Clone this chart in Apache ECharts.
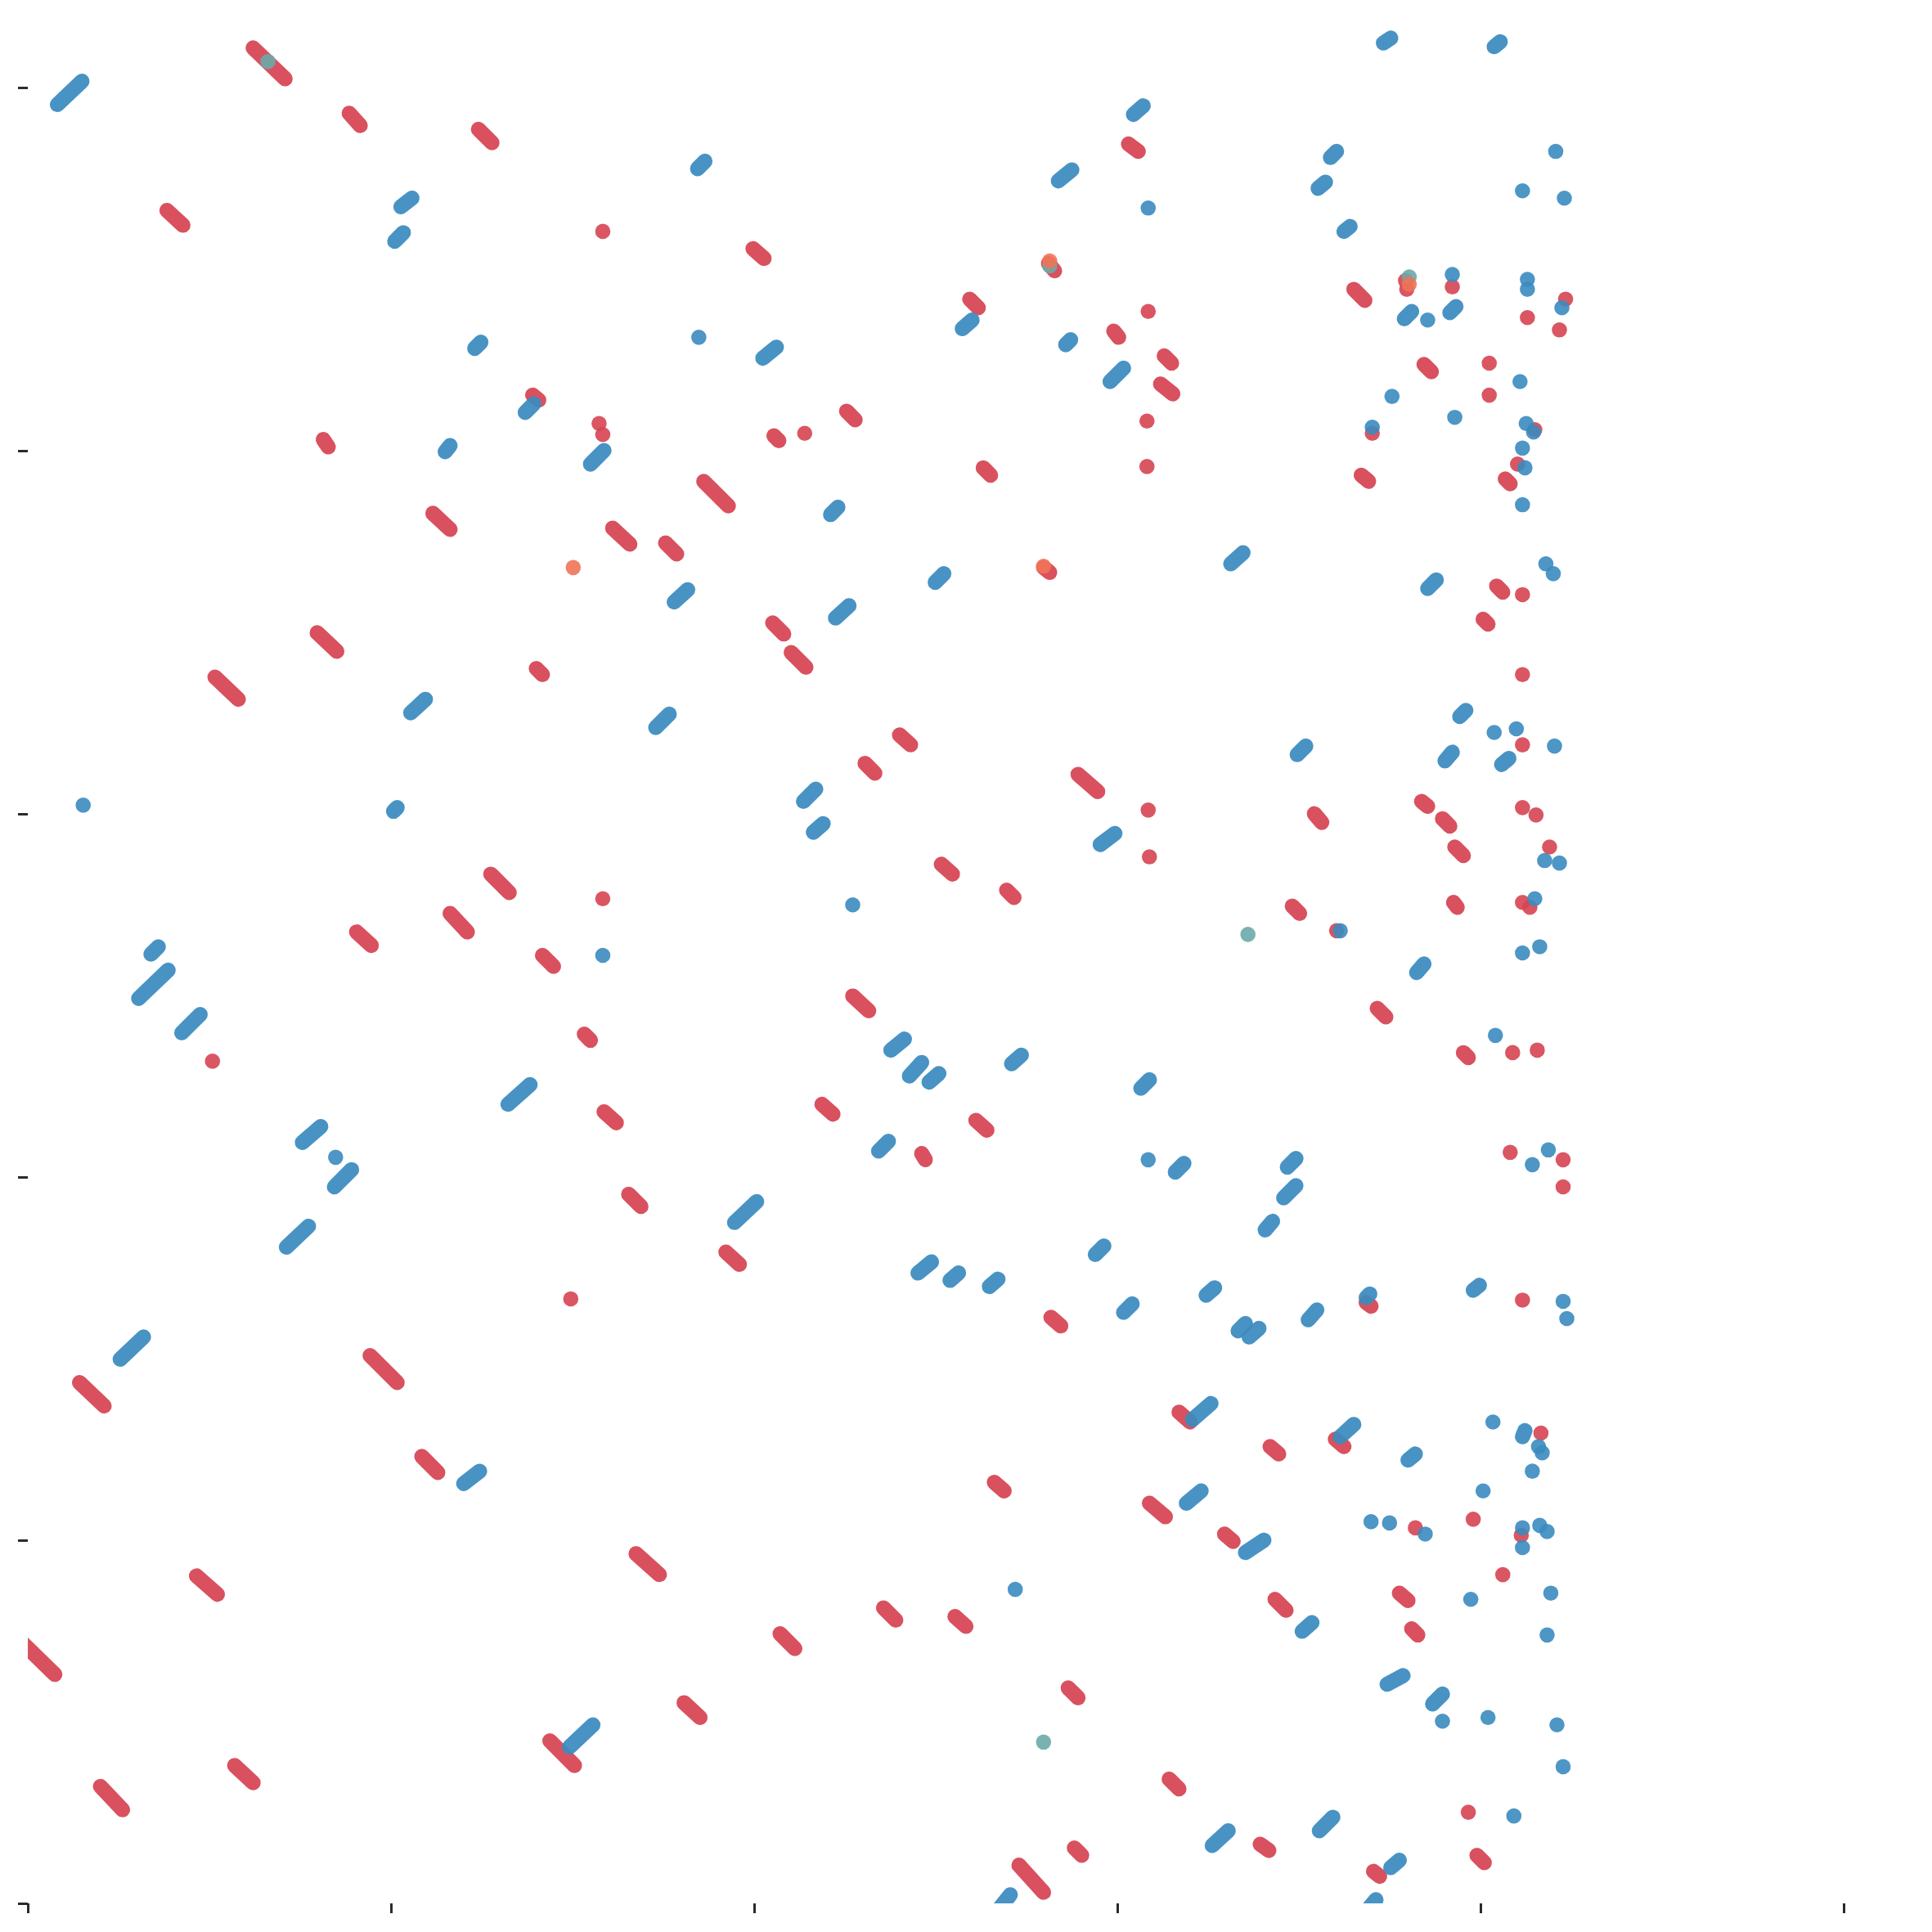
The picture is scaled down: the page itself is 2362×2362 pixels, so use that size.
<!DOCTYPE html>
<html>
<head>
<meta charset="utf-8">
<script src="https://cdn.jsdelivr.net/npm/echarts@6/dist/echarts.min.js"></script>
<style>
  html, body { margin: 0; padding: 0; background: #ffffff; }
  #chart { width: 2362px; height: 2362px; }
</style>
</head>
<body>
<div id="chart"></div>
<script>
//////////DATA - each mark is [x1, y1, x2, y2] (start, end of the trail), dots are [x, y]
var tickValues = [0, 295, 590, 885, 1180, 1475];

var blueSegs = [
    [24,1461,44,1480], [544,1409,550,1415], [303,1378,312,1385], [298,1350,305,1357],
    [1101,1511,1107,1515], [1191,1508,1196,1512], [898,1453,906,1460], [837,1399,848,1408],
    [1048,1393,1054,1398], [1058,1418,1063,1423], [1069,1358,1074,1362], [1118,1287,1124,1293],
    [1155,1292,1160,1297], [759,1279,767,1286], [597,1255,608,1264], [363,1263,368,1268],
    [843,1266,847,1270], [879,1236,890,1247], [339,1179,343,1184], [404,1211,411,1218],
    [457,1169,468,1180], [652,1128,658,1134], [977,1088,987,1097], [737,1073,744,1080],
    [525,1057,536,1067], [656,1044,667,1054], [1137,1068,1144,1075], [311,967,323,978],
    [510,955,521,966], [1163,964,1168,969], [1031,933,1038,940], [1151,928,1157,935],
    [1197,925,1203,930], [630,895,640,905], [638,870,646,877], [297,887,300,890],
    [871,860,883,869], [1128,756,1134,763], [100,771,106,777], [90,735,114,758],
    [125,707,140,722], [701,693,712,702], [716,672,726,683], [732,667,740,674],
    [799,682,807,689], [390,649,408,665], [223,618,238,631], [249,582,263,596],
    [691,611,699,619], [904,662,911,669], [932,594,939,601], [1023,598,1030,605],
    [1020,573,1030,583], [1005,547,1011,554], [210,533,228,550], [574,553,592,570],
    [723,512,734,521], [749,506,756,512], [781,501,788,507], [867,527,874,534],
    [890,480,897,487], [957,494,964,500], [75,442,94,460], [983,465,989,471],
    [992,460,1000,467], [1040,474,1047,482], [1087,492,1090,495], [1174,498,1179,502],
    [354,341,367,351], [946,393,961,406], [1066,379,1077,389], [1121,360,1127,365],
    [1214,379,1216,384], [941,325,953,335], [989,285,1004,295], [1035,221,1043,228],
    [1104,178,1117,185], [1141,162,1149,170], [440,127,459,145], [962,47,975,59],
    [1049,59,1060,70], [790,-3,798,7], [1107,29,1114,35], [1090,-3,1095,3]
];
var blueDots = [
    [910,1377], [1241,1423], [1214,1391], [1248,1385], [1157,1323], [1218,1319], [1218,1311],
    [1246,1296], [1137,1286], [1212,1236], [1108,1224], [545,1272], [1092,1199], [1159,1207],
    [1217,1202], [1223,1195], [1214,1182], [1216,1166], [1214,1136], [1233,1088], [1239,1080],
    [1191,951], [1209,954], [1240,940], [45,892], [1232,847], [1244,845], [1224,816],
    [1214,772], [1228,777], [1066,790], [670,811], [467,770], [1192,705], [250,606],
    [910,604], [1222,600], [1235,612], [1247,489], [1250,475], [1190,391], [1227,371],
    [1230,366], [1222,351], [1182,335], [1091,310], [1106,309], [1135,300], [1214,305],
    [1214,289], [1228,307], [1234,302], [802,255], [1172,247], [1237,252], [1234,218],
    [1149,148], [1186,151], [1242,145], [1247,111], [1207,71]
];

var redSegs = [
    [183,1507,209,1482], [261,1454,270,1444], [366,1441,377,1430], [113,1375,126,1363],
    [589,1344,598,1336], [894,1429,902,1423], [829,1332,834,1326], [1077,1311,1086,1302],
    [1134,1250,1140,1244], [765,1303,772,1296], [882,1277,886,1272], [923,1257,929,1251],
    [920,1234,930,1226], [240,1189,244,1183], [410,1225,415,1221], [606,1192,610,1188],
    [665,1212,672,1205], [776,1166,782,1160], [1200,1157,1204,1153], [1083,1160,1089,1155],
    [329,1129,343,1116], [549,1155,569,1135], [475,1117,489,1104], [518,1105,527,1096],
    [825,1085,830,1081], [1193,1070,1198,1065], [1182,1043,1186,1039], [235,1032,251,1017],
    [152,996,171,978], [413,1003,418,998], [605,1040,614,1031], [620,1016,632,1004],
    [708,949,717,941], [680,926,688,918], [853,917,869,903], [1045,885,1051,878],
    [1132,895,1137,891], [1149,881,1155,875], [1159,858,1166,851], [742,844,751,836],
    [795,823,801,817], [267,789,279,778], [343,804,357,789], [376,836,391,821],
    [418,770,427,761], [1027,810,1033,804], [1158,813,1161,809], [452,706,457,701],
    [670,737,683,725], [1096,727,1103,720], [1166,691,1170,687], [468,643,478,634],
    [645,649,654,641], [770,636,779,628], [726,609,729,604], [488,576,498,566],
    [567,529,578,519], [831,476,839,469], [1087,488,1091,485], [42,423,62,404],
    [278,445,300,423], [320,363,333,350], [935,399,944,391], [1009,371,1016,365],
    [1062,377,1069,371], [785,342,793,335], [911,325,924,314], [972,300,979,294],
    [137,266,154,251], [494,284,513,267], [-10,217,22,186], [611,219,623,207],
    [695,240,705,230], [753,233,762,225], [1013,247,1022,238], [1114,252,1121,246],
    [1124,223,1129,218], [845,175,853,167], [424,132,444,112], [533,163,546,151],
    [59,95,77,76], [168,112,183,98], [927,101,935,93], [1001,48,1008,43],
    [805,31,825,9], [850,45,856,39], [1177,39,1183,33], [1093,26,1098,22]
];
var redDots = [
    [467,1358], [1119,1318], [1120,1311], [1157,1313], [1249,1303], [1218,1288], [1244,1278],
    [1187,1251], [1187,1225], [910,1293], [909,1204], [909,1167], [464,1202], [467,1193],
    [631,1194], [1092,1194], [1224,1197], [1210,1169], [1214,1063], [1214,998], [1214,941],
    [910,888], [1214,890], [1225,884], [1236,858], [911,850], [467,816], [1063,790],
    [1214,813], [1220,809], [150,684], [1206,691], [1226,693], [1204,610], [1247,604],
    [1247,582], [441,491], [1214,490], [1229,382], [1127,305], [1174,312], [1213,299],
    [1198,267], [1170,74]
];

var tealDots = [[195,1496], [1122,1321], [830,1330], [991,787], [825,131]];
var orangeDots = [[830,1334], [1122,1315], [443,1085], [825,1086]];

//////////Colores
var colors = {
    blue: '#3a8bbf',
    red: '#d64452',
    teal: '#6aaaa8',
    orange: '#ef7356'
};

//////////Helpers
function toMarks(segs, dots) {
    var out = segs.slice();
    dots.forEach(function (d) {
        out.push([d[0], d[1], d[0], d[1]]);
    });
    return out;
}

//Trail = round capped line between both points, single point = circle
function renderTrail(params, api) {
    var p1 = api.coord([api.value(0), api.value(1)]);
    var p2 = api.coord([api.value(2), api.value(3)]);
    var color = api.visual('color');
    if (p1[0] === p2[0] && p1[1] === p2[1]) {
        return {
            type: 'circle',
            shape: { cx: p1[0], cy: p1[1], r: 9.3 },
            style: { fill: color, opacity: 0.9 }
        };
    }
    return {
        type: 'line',
        shape: { x1: p1[0], y1: p1[1], x2: p2[0], y2: p2[1] },
        style: { stroke: color, lineWidth: 18.5, lineCap: 'round', opacity: 0.93 }
    };
}

function trailSeries(name, data, color) {
    return {
        name: name,
        type: 'custom',
        clip: true,
        renderItem: renderTrail,
        itemStyle: { color: color },
        encode: { x: [0, 2], y: [1, 3] },
        data: data
    };
}

//////////CHART
var chart = echarts.init(document.getElementById('chart'));
var axisCommon = {
    type: 'value',
    min: 0,
    max: 1530,
    axisLine: { show: false },
    splitLine: { show: false },
    axisLabel: { show: false },
    axisTick: {
        show: true,
        inside: false,
        length: 12,
        customValues: tickValues,
        lineStyle: { color: '#2b2b2b', width: 3 }
    }
};

var option = {
    backgroundColor: '#ffffff',
    animation: false,
    grid: { left: 34, right: 25, top: 24, bottom: 35 },
    xAxis: axisCommon,
    yAxis: axisCommon,
    series: [
        trailSeries('red', toMarks(redSegs, redDots), colors.red),
        trailSeries('blue', toMarks(blueSegs, blueDots), colors.blue),
        trailSeries('teal', toMarks([], tealDots), colors.teal),
        trailSeries('orange', toMarks([], orangeDots), colors.orange)
    ]
};
chart.setOption(option);
</script>
</body>
</html>
